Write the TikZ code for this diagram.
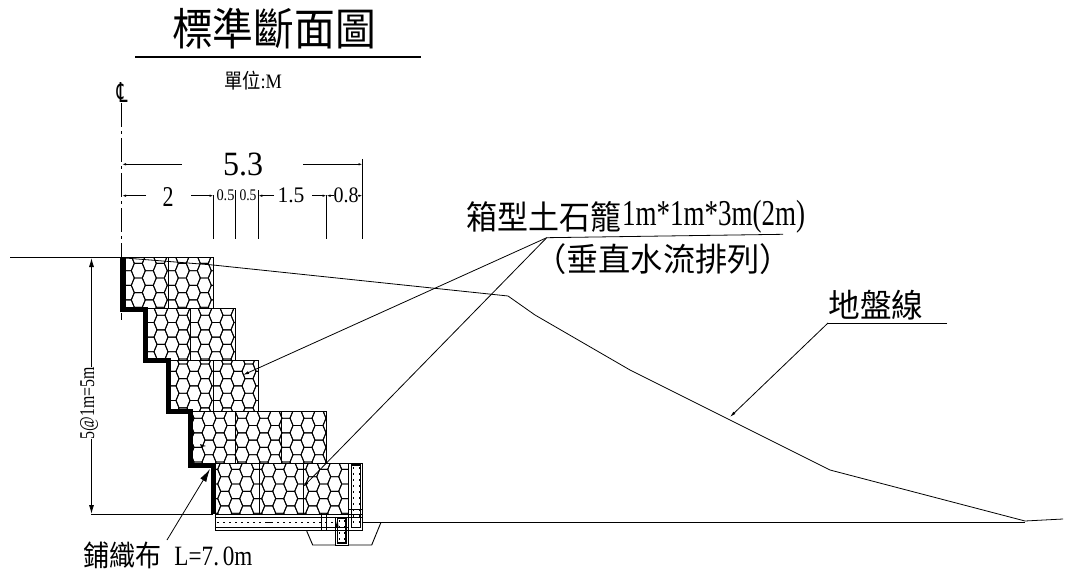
\documentclass[tikz,border=0pt]{standalone}
\usepackage{graphicx}
\usepackage{fontspec}
\setmainfont{Liberation Serif}
\newfontfamily\cjk{Noto Sans CJK TC}
\newfontfamily\dejav{DejaVu Sans}
\usetikzlibrary{arrows.meta}
\newcommand\fitbox[3]{\resizebox*{#1pt}{#2pt}{#3}}
\tikzset{
  every node/.style={inner sep=0pt,outer sep=0pt},
  thin line/.style={line width=0.8pt,black},
  base line/.style={line width=1pt,black},
  wall/.style={line width=5pt,black,line join=miter},
  mesh/.style={line width=0.9pt,black},
  dots/.style={line width=1.3pt,black,dash pattern=on 2pt off 4pt},
  dim tip/.style={-{Latex[length=4pt,width=2.5pt]}},
  big tip/.style={-{Latex[length=9pt,width=5pt]}},
  lead tip/.style={-{Latex[length=13pt,width=7pt]}},
  small tip/.style={-{Latex[length=6pt,width=3pt]}},
}
% x1 y1 x2 y2 xoffset yoffset : a gabion row with a continuous honeycomb
\newcommand\gabion[6]{%
  \begin{scope}
    \clip (#1,#2) rectangle (#3,#4);
    \foreach \ci in {-1,...,14}{
      \foreach \rj in {-1,...,4}{
        \pgfmathsetmacro\cx{#1+#5+\ci*11}
        \pgfmathsetmacro\cy{#2+#6+\rj*14.6+(mod(\ci+2,2)==1?7.3:0)}
        \draw[mesh] (\cx-7,\cy)--(\cx-4,\cy-7.3)--(\cx+4,\cy-7.3)--(\cx+7,\cy)--(\cx+4,\cy+7.3)--(\cx-4,\cy+7.3)--cycle;
      }
    }
  \end{scope}
  \draw[base line] (#1,#2) rectangle (#3,#4);
}
\begin{document}
\begin{tikzpicture}[x=1pt,y=-1pt]
\useasboundingbox (0,0) rectangle (1075,580);
\fill[white] (0,0) rectangle (1075,580);

% title
\node (title) at (274,29) {\fitbox{204}{41}{\cjk 標準斷面圖}};
\coordinate (tl) at (135,57); \coordinate (tr) at (421,57);
\draw[line width=1.3pt] (tl)--(tr);
\node (unit) at (253,81) {\fitbox{58}{19}{{\cjk 單位}:M}};

% centre line
\node (cl) at (122,93) {\fitbox{11}{20}{\dejav ℄}};
\coordinate (cl1) at (121.8,103); \coordinate (cl2) at (121.8,320);
\draw[thin line,dash pattern=on 24pt off 4pt on 3pt off 4pt] (cl1)--(cl2);

% gabions
\gabion{125}{257.7}{213}{308}{13.3}{13}
\draw[mesh] (168.3,257.7)--(168.3,308);
\gabion{147.7}{308}{235}{360}{13.3}{14.5}
\draw[mesh] (190,308)--(190,360);
\gabion{170.7}{360}{258.7}{411.5}{12.3}{11.3}
\draw[mesh] (213.5,360)--(213.5,411.5);
\gabion{192.7}{411.5}{326.7}{463}{5.3}{14}
\draw[mesh] (235.7,411.5)--(235.7,463) (281.7,411.5)--(281.7,463);
\gabion{215}{463}{348.3}{514.3}{9.7}{6.4}
\draw[mesh] (259,463)--(259,514.3) (303.7,463)--(303.7,514.3);

% geotextile wall
\draw[wall] (122.5,257)--(122.5,309)--(145.3,309)--(145.3,360)--(168,360)--(168,411.7)--(190,411.7)--(190,465)--(213.3,465)--(213.3,514);
\fill (200,444) -- (206,446) -- (201,447) -- cycle;

% ground
\coordinate (g0) at (10,257.5); \coordinate (g1) at (125,257.5);
\draw[base line] (g0)--(g1);
\coordinate (b0) at (91,514.3); \coordinate (b1) at (213,514.3);
\draw[base line] (b0)--(b1);
\draw[thin line] (125,258)--(213,265)--(508,296)--(535,315)--(630,370)--(830,470)--(1025,521)--(1063,519);
\draw[base line] (362.7,522.3)--(1025,522.3);

% drain / base
\draw[mesh] (348.3,463) rectangle (362.7,530);
\draw[mesh] (348.3,509)--(362.7,509);
\draw[line width=1.3pt] (351.7,465) rectangle (360.7,527.5);
\draw[dots] (353.2,467)--(353.2,525) (359.2,467)--(359.2,525);
\draw[base line] (215,514.3)--(362.7,514.3);
\draw[mesh] (215,517)--(362.7,517);
\draw[base line] (215,514.3)--(215,530);
\draw[mesh] (215,527.3)--(348.3,527.3);
\draw[base line] (215,530)--(362.7,530);
\draw[dots] (217,522.3)--(337,522.3);
\draw[line width=1.2pt] (266,522.3)--(273,522.3);
\draw[mesh] (321.7,513)--(321.7,530) (326.7,513)--(326.7,530);
\fill (335.5,527) -- (337.5,519) -- (338.5,527) -- cycle;
% trench and drain pipe
\draw[mesh] (306.7,531)--(312.7,545)--(335.7,545);
\draw[base line] (335.7,517)--(335.7,545)--(348.3,545)--(348.3,517);
\draw[line width=1.3pt] (337.7,518) rectangle (346,543);
\draw[dots] (339.2,520)--(339.2,541) (344.5,520)--(344.5,541);
\draw[mesh] (348.3,545)--(371.7,545)--(381,522.3);

% width dimensions
\coordinate (d0) at (362.5,159); \coordinate (d0b) at (362.5,239);
\draw[thin line] (d0)--(d0b);
\coordinate (e1) at (213.5,195); \coordinate (e1b) at (213.5,239);
\coordinate (e2) at (235.5,190); \coordinate (e2b) at (235.5,239);
\coordinate (e3) at (258.3,190); \coordinate (e3b) at (258.3,239);
\coordinate (e4) at (326.5,195); \coordinate (e4b) at (326.5,239);
\draw[thin line] (e1)--(e1b) (e2)--(e2b) (e3)--(e3b) (e4)--(e4b);
\node (w53) at (243,164) {\fitbox{40}{23}{5.3}};
\coordinate (a0) at (122,164.3); \coordinate (a1) at (181.7,164.3);
\coordinate (a2) at (362.5,164.3); \coordinate (a3) at (303,164.3);
\draw[thin line,dim tip] (a1)--(a0);
\draw[thin line,dim tip] (a3)--(a2);
\node (w2) at (168,197) {\fitbox{11}{19}{2}};
\node (w05a) at (225.5,195) {\fitbox{18}{11}{0.5}};
\node (w05b) at (248,195) {\fitbox{17}{11}{0.5}};
\node (w15) at (291,195) {\fitbox{27}{15}{1.5}};
\node (w08) at (346,195.5) {\fitbox{25}{15}{0.8}};
\coordinate (f0) at (122,195.7); \coordinate (f1) at (146,195.7);
\coordinate (f2) at (191,195.7); \coordinate (f3) at (213.5,195.7);
\coordinate (f4) at (258.3,195.7); \coordinate (f5) at (274,195.7);
\coordinate (f6) at (312,195.7); \coordinate (f7) at (326.5,195.7);
\coordinate (f8) at (334,195.7); \coordinate (f9) at (362.5,195.7); \coordinate (f10) at (358,195.7);
\draw[thin line,dim tip] (f1)--(f0);
\draw[thin line,dim tip] (f2)--(f3);
\draw[thin line,dim tip] (f5)--(f4);
\draw[thin line,dim tip] (f6)--(f7);
\draw[thin line,dim tip] (f8)--(f7);
\draw[thin line,dim tip] (f10)--(f9);

% height dimension
\node[rotate=90] (h5) at (89,403) {\fitbox{72}{18}{5@1m=5m}};
\coordinate (h0) at (91.5,258); \coordinate (h1) at (91.5,367);
\coordinate (h2) at (91.5,514); \coordinate (h3) at (91.5,439);
\draw[thin line,big tip] (h1)--(h0);
\draw[thin line,big tip] (h3)--(h2);

% gabion callout
\node (cg1) at (544,217) {\fitbox{155}{31}{\cjk 箱型土石籠}};
\node (cg2) at (713.5,217) {\fitbox{183}{33}{1m*1m*3m(2m)}};
\node (cg3) at (663,259) {\fitbox{258}{31}{\cjk （垂直水流排列）}};
\coordinate (c0) at (546.7,237.7); \coordinate (c1) at (783,234.3);
\coordinate (c2) at (243,375); \coordinate (c3) at (303,487);
\draw[thin line] (c0)--(c1);
\draw[thin line,small tip] (c0)--(c2);
\draw[thin line,small tip] (c0)--(c3);

% ground line callout
\node (gl) at (876,305) {\fitbox{95}{30}{\cjk 地盤線}};
\coordinate (gu1) at (947,323); \coordinate (gu0) at (828,323); \coordinate (gt) at (730,417);
\draw[thin line] (gu1)--(gu0);
\draw[thin line,small tip] (gu0)--(gt);

% geotextile callout
\node (tx1) at (122,555) {\fitbox{78}{27}{\cjk 鋪織布}};
\node (tx2) at (213.5,556) {\fitbox{78}{19}{L=7.\,0m}};
\coordinate (t0) at (167,540); \coordinate (t1) at (210,469);
\draw[thin line,lead tip] (t0)--(t1);
\end{tikzpicture}
\end{document}
